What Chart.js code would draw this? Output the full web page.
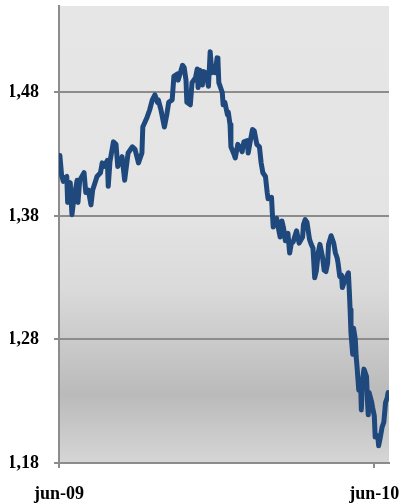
<!DOCTYPE html>
<html>
<head>
<meta charset="utf-8">
<title>EUR/USD</title>
<script src="https://cdn.jsdelivr.net/npm/chart.js@4.4.0/dist/chart.umd.min.js"></script>
<style>
  html, body { margin: 0; padding: 0; background: #fff; }
  canvas { display: block; }
</style>
</head>
<body>
<canvas id="fx" width="400" height="504"></canvas>
<script>
// days counted from 1 June 2009
const days = [
  1, 2, 3, 5, 7, 9, 10, 13, 15, 17, 21, 22, 24, 29, 31, 34, 37, 39, 44, 48,
  50, 52, 56, 57, 59, 63, 66, 68, 73, 76, 80, 85, 88, 92, 96, 97, 102, 105, 108, 111,
  114, 115, 118, 122, 125, 127, 131, 133, 137, 138, 143, 145, 147, 148, 152, 154, 158, 160, 161, 163,
  166, 167, 170, 173, 175, 177, 178, 181, 183, 184, 185, 189, 190, 192, 195, 196, 198, 199, 202, 204,
  207, 210, 212, 214, 218, 219, 221, 224, 226, 229, 232, 234, 236, 239, 241, 242, 246, 247, 248, 252,
  254, 256, 258, 260, 262, 265, 267, 269, 271, 275, 277, 278, 282, 283, 285, 287, 290, 292, 294, 296,
  298, 300, 302, 305, 307, 309, 311, 312, 315, 318, 320, 322, 323, 325, 327, 328, 330, 333, 335, 336,
  337, 338, 340, 341, 343, 344, 345, 347, 349, 350, 351, 353, 356, 357, 358, 359, 362, 363, 365, 366,
  369, 370, 372, 374, 376, 378, 380, 381
];

// EUR/USD exchange rate
const rates = [
  1.429, 1.421, 1.413, 1.408, 1.411, 1.412, 1.391, 1.407, 1.381, 1.393, 1.409, 1.391, 1.409, 1.415, 1.399, 1.401, 1.389, 1.401, 1.412, 1.415,
  1.423, 1.420, 1.425, 1.404, 1.424, 1.440, 1.438, 1.420, 1.428, 1.409, 1.431, 1.436, 1.434, 1.423, 1.431, 1.452, 1.460, 1.466, 1.474, 1.478,
  1.472, 1.474, 1.466, 1.452, 1.463, 1.472, 1.474, 1.493, 1.495, 1.490, 1.502, 1.500, 1.490, 1.472, 1.470, 1.488, 1.492, 1.499, 1.484, 1.498,
  1.486, 1.497, 1.496, 1.485, 1.513, 1.496, 1.501, 1.496, 1.508, 1.506, 1.488, 1.480, 1.470, 1.472, 1.462, 1.464, 1.454, 1.436, 1.431, 1.427,
  1.438, 1.435, 1.432, 1.440, 1.441, 1.431, 1.439, 1.450, 1.449, 1.438, 1.436, 1.423, 1.415, 1.412, 1.399, 1.394, 1.395, 1.382, 1.371, 1.378,
  1.370, 1.363, 1.376, 1.370, 1.360, 1.366, 1.350, 1.358, 1.359, 1.368, 1.361, 1.358, 1.363, 1.373, 1.377, 1.375, 1.361, 1.357, 1.354, 1.330,
  1.336, 1.350, 1.357, 1.347, 1.336, 1.335, 1.342, 1.357, 1.364, 1.358, 1.350, 1.346, 1.342, 1.331, 1.332, 1.322, 1.326, 1.331, 1.334, 1.320,
  1.304, 1.285, 1.268, 1.289, 1.280, 1.266, 1.258, 1.239, 1.247, 1.223, 1.245, 1.256, 1.250, 1.231, 1.219, 1.237, 1.229, 1.225, 1.218, 1.201,
  1.202, 1.194, 1.201, 1.209, 1.213, 1.229, 1.233, 1.237
];

const yTicks = [1.18, 1.28, 1.38, 1.48];
const xTicks = [0, 365];
const xTickLabels = ['jun-09', 'jun-10'];

const axisGray = '#8c8c8c';
const labelFont = { family: "'Liberation Serif', 'Times New Roman', serif", size: 18, weight: 'bold' };

// grey plot area, darker band towards the bottom
const plotBackground = {
  id: 'plotBackground',
  beforeDraw(chart) {
    const { ctx, chartArea: a } = chart;
    const g = ctx.createLinearGradient(0, a.top, 0, a.bottom);
    g.addColorStop(0, '#e6e6e6');
    g.addColorStop(0.45, '#e4e4e4');
    g.addColorStop(0.62, '#dadada');
    g.addColorStop(0.73, '#cbcbcb');
    g.addColorStop(0.85, '#bababa');
    g.addColorStop(1, '#d6d6d6');
    ctx.save();
    ctx.fillStyle = g;
    ctx.fillRect(a.left, a.top, a.right - a.left, a.bottom - a.top);
    ctx.restore();
  }
};

new Chart(document.getElementById('fx'), {
  type: 'line',
  data: {
    datasets: [{
      data: days.map((d, i) => ({ x: d, y: rates[i] })),
      borderColor: '#1f497d',
      borderWidth: 5,
      borderJoinStyle: 'round',
      borderCapStyle: 'round',
      pointRadius: 0,
      tension: 0
    }]
  },
  options: {
    responsive: false,
    animation: false,
    layout: { padding: { left: 10, right: 11, top: 6, bottom: 0 } },
    plugins: { legend: { display: false }, tooltip: { enabled: false } },
    scales: {
      x: {
        type: 'linear',
        min: 0,
        max: 382,
        afterBuildTicks: s => { s.ticks = xTicks.map(v => ({ value: v })); },
        afterFit: s => { s.height = 41; s.paddingLeft = 0; s.paddingRight = 0; },
        ticks: {
          autoSkip: false,
          maxRotation: 0,
          padding: 16,
          color: '#000',
          font: labelFont,
          callback: v => xTickLabels[xTicks.indexOf(v)]
        },
        grid: { drawOnChartArea: false, tickLength: 5, color: axisGray, lineWidth: 2 },
        border: { color: axisGray, width: 2 }
      },
      y: {
        min: 1.18,
        max: 1.55,
        afterBuildTicks: s => { s.ticks = yTicks.map(v => ({ value: v })); },
        afterFit: s => { s.width = 49; s.paddingTop = 0; s.paddingBottom = 0; },
        ticks: {
          padding: 15,
          color: '#000',
          font: labelFont,
          callback: v => v.toFixed(2).replace('.', ',')
        },
        grid: { tickLength: 5, color: axisGray, lineWidth: 2 },
        border: { color: axisGray, width: 2 }
      }
    }
  },
  plugins: [plotBackground]
});
</script>
</body>
</html>
